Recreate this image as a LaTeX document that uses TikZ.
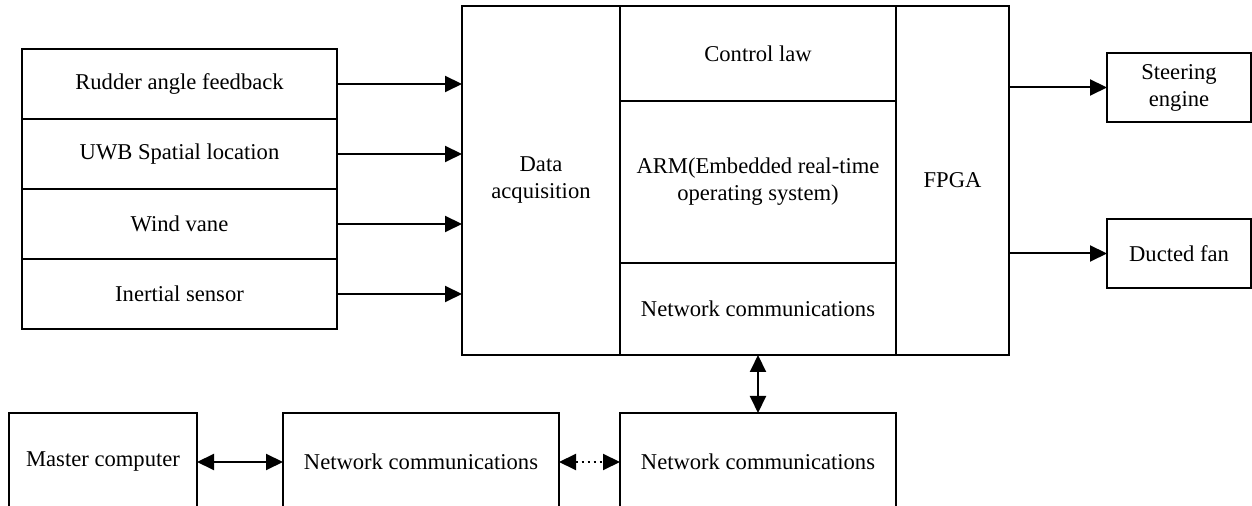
\documentclass[tikz,border=0pt]{standalone}
\usepackage{fontspec}
\setmainfont{Liberation Serif}
\usetikzlibrary{arrows.meta}

\tikzset{
    blk/.style={draw, line width=0.8pt, inner sep=0pt, outer sep=0pt, align=center},
    arr/.style={line width=1pt, -{Triangle[length=8.5pt,width=8pt]}},
    darr/.style={line width=1pt, {Triangle[length=8.5pt,width=8pt]}-{Triangle[length=8.5pt,width=8pt]}}
}

\begin{document}
\begin{tikzpicture}[x=0.5pt, y=-0.5pt, font=\fontsize{11.3}{13.5}\selectfont]
        \clip (0,0) rectangle (1252,506);

        \node[blk, minimum width=157.5pt, minimum height=35pt] (rud) at (179.5,84) {Rudder angle feedback};
        \node[blk, minimum width=157.5pt, minimum height=35pt] (uwb) at (179.5,154) {UWB Spatial location};
        \node[blk, minimum width=157.5pt, minimum height=35pt] (wind) at (179.5,224) {Wind vane};
        \node[blk, minimum width=157.5pt, minimum height=35pt] (ins) at (179.5,294) {Inertial sensor};

        \node[blk, minimum width=79pt, minimum height=174.5pt] (daq) at (541,180.5) {Data\\acquisition};
        \node[blk, minimum width=138pt, minimum height=47.5pt] (ctl) at (758,53.5) {Control law};
        \node[blk, minimum width=138pt, minimum height=81pt] (arm) at (758,182) {ARM(Embedded real-time\\operating system)};
        \node[blk, minimum width=138pt, minimum height=46pt] (net) at (758,309) {Network communications};
        \node[blk, minimum width=56.5pt, minimum height=174.5pt] (fpga) at (952.5,180.5) {FPGA};

        \node[blk, minimum width=72pt, minimum height=34.5pt] (steer) at (1179,87.5) {Steering\\engine};
        \node[blk, minimum width=72pt, minimum height=34.5pt] (fan) at (1179,253.5) {Ducted fan};

        \node[blk, minimum width=94pt, minimum height=49pt] (master) at (103,462) {Master computer};
        \node[blk, minimum width=138pt, minimum height=49pt] (netb) at (421,462) {Network communications};
        \node[blk, minimum width=138pt, minimum height=49pt] (netc) at (758,462) {Network communications};

        \foreach \s in {rud,uwb,wind,ins}
            \draw[arr] (\s.east) -- (\s.east -| daq.west);

        \draw[arr] (steer.west -| fpga.east) -- (steer.west);
        \draw[arr] (fan.west -| fpga.east) -- (fan.west);

        \draw[darr] (net.south) -- (netc.north);
        \draw[darr] (master.east) -- (netb.west);
        \draw[darr, dotted] (netb.east) -- (netc.west);
    \end{tikzpicture}
\end{document}
